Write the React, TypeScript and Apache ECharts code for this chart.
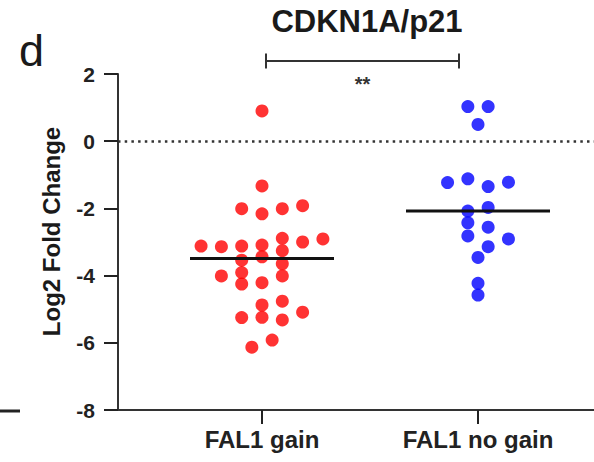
import React, { useEffect, useRef } from "react";
import * as echarts from "echarts";

// ---- data ----
const categories = ["FAL1 gain", "FAL1 no gain"];
const chartTitle = "CDKN1A/p21";
const panelLetter = "d";
const yAxisTitle = "Log2 Fold Change";
const significance = "**";
const yMin = -8;
const yMax = 2;
const yStep = 2;

// FAL1 gain (red) log2 fold changes and their beeswarm column (slot) offsets
const gainValues = [
  0.9, -1.33, -2.01, -2.16, -2.01, -1.92, -3.12, -3.14, -3.12, -3.09, -2.89, -3.0, -2.91,
  -3.26, -3.54, -3.44, -3.65, -4.01, -3.91, -4.01, -4.25, -4.21, -4.875, -4.76, -5.09,
  -5.25, -5.24, -5.32, -5.92, -6.13,
];
const gainSlots = [
  0, 0, -1, 0, 1, 2, -3, -2, -1, 0, 1, 2, 3, 1, -1, 0, 1, -2, -1, 1, -1, 0, 0, 1, 2, -1, 0, 1,
  0.5, -0.5,
];

// FAL1 no gain (blue)
const noGainValues = [
  1.03, 1.03, 0.5, -1.23, -1.12, -1.35, -1.22, -2.08, -1.97, -2.43, -2.56, -2.82, -2.91,
  -3.14, -3.46, -4.23, -4.58,
];
const noGainSlots = [
  -0.5, 0.5, 0, -1.5, -0.5, 0.5, 1.5, -0.5, 0.5, -0.5, 0.5, -0.5, 1.5, 0.5, 0, 0, 0,
];

// significance bracket span (category units) and height (data units)
const bracketFrom = 0.0185;
const bracketTo = 0.912;
const bracketY = 2.387;

const SLOT = 0.094; // fraction of category spacing per swarm slot
const HALF_MEDIAN = 1 / 3;

function median(a: number[]) {
  const s = [...a].sort((x, y) => x - y);
  const m = Math.floor(s.length / 2);
  return s.length % 2 ? s[m] : (s[m - 1] + s[m]) / 2;
}

export default function App() {
  const ref = useRef<HTMLDivElement>(null);
  useEffect(() => {
    const chart = echarts.init(ref.current!, null, { renderer: "svg" });
    const font = "'Liberation Sans', Arial, sans-serif";
    const ink = "#222";
    const pts = (vals: number[], slots: number[], c: number) =>
      vals.map((v, i) => [c + slots[i] * SLOT, v]);
    const mGain = median(gainValues);
    const mNo = median(noGainValues);
    const medLine = (c: number, m: number) => ({
      type: "line",
      data: [
        [c - HALF_MEDIAN, m],
        [c + HALF_MEDIAN, m],
      ],
      symbol: "none",
      lineStyle: { color: "#111", width: 3 },
      silent: true,
      z: 3,
    });

    chart.setOption({
      animation: false,
      grid: { left: 118, right: 0, top: 74, bottom: 52 },
      xAxis: {
        type: "value",
        min: -2 / 3,
        max: 1.537,
        splitLine: { show: false },
        axisLine: { onZero: false, lineStyle: { color: "#333", width: 2 } },
        axisTick: { customValues: [0, 1], length: 14, lineStyle: { color: ink, width: 2 } },
        axisLabel: {
          customValues: [0, 1],
          formatter: (v: number) => categories[Math.round(v)],
          fontFamily: font,
          fontWeight: "bold",
          fontSize: 24,
          color: ink,
          margin: 17,
        },
      },
      yAxis: {
        type: "value",
        min: yMin,
        max: yMax,
        interval: yStep,
        splitLine: { show: false },
        axisLine: { show: true, onZero: false, lineStyle: { color: "#333", width: 2 } },
        axisTick: { show: true, length: 14, lineStyle: { color: ink, width: 2 } },
        axisLabel: {
          fontFamily: font,
          fontWeight: "bold",
          fontSize: 21,
          color: ink,
          margin: 23,
        },
      },
      series: [
        {
          type: "scatter",
          data: pts(gainValues, gainSlots, 0),
          symbolSize: 13,
          itemStyle: { color: "#ff0000" },
          z: 2,
          markLine: {
            silent: true,
            symbol: "none",
            label: { show: false },
            lineStyle: { color: "#333", width: 2.5, type: [2.5, 4.2] },
            data: [{ yAxis: 0 }],
          },
        },
        {
          type: "scatter",
          data: pts(noGainValues, noGainSlots, 1),
          symbolSize: 13,
          itemStyle: { color: "#0000ff" },
          z: 2,
        },
        medLine(0, mGain),
        medLine(1, mNo),
      ],
    });

    const p1 = chart.convertToPixel({ gridIndex: 0 }, [bracketFrom, bracketY]) as number[];
    const p2 = chart.convertToPixel({ gridIndex: 0 }, [bracketTo, bracketY]) as number[];
    const cap = 7.5;
    chart.setOption({
      graphic: [
        {
          type: "text",
          x: 367,
          y: 6,
          style: {
            text: chartTitle,
            font: `bold 31px ${font}`,
            fill: "#1a1a1a",
            textAlign: "center",
            textVerticalAlign: "top",
          },
        },
        {
          type: "text",
          x: 19,
          y: 28,
          style: {
            text: panelLetter,
            font: `45px ${font}`,
            fill: "#1a1a1a",
            textAlign: "left",
            textVerticalAlign: "top",
          },
        },
        {
          type: "text",
          x: 51,
          y: 231.5,
          rotation: Math.PI / 2,
          style: {
            text: yAxisTitle,
            font: `bold 24px ${font}`,
            fill: "#1a1a1a",
            textAlign: "center",
            textVerticalAlign: "middle",
          },
        },
        {
          type: "line",
          shape: { x1: p1[0], y1: p1[1], x2: p2[0], y2: p2[1] },
          style: { stroke: "#333", lineWidth: 2 },
        },
        {
          type: "line",
          shape: { x1: p1[0], y1: p1[1] - cap, x2: p1[0], y2: p1[1] + cap },
          style: { stroke: "#333", lineWidth: 2 },
        },
        {
          type: "line",
          shape: { x1: p2[0], y1: p2[1] - cap, x2: p2[0], y2: p2[1] + cap },
          style: { stroke: "#333", lineWidth: 2 },
        },
        {
          type: "text",
          x: (p1[0] + p2[0]) / 2,
          y: p1[1] + 23,
          style: {
            text: significance,
            font: `bold 20px ${font}`,
            fill: "#333",
            textAlign: "center",
            textVerticalAlign: "middle",
          },
        },
        {
          type: "line",
          shape: { x1: 0, y1: 411, x2: 20, y2: 411 },
          style: { stroke: "#222", lineWidth: 3 },
        },
      ],
    });

    return () => chart.dispose();
  }, []);

  return (
    <div
      ref={ref}
      style={{ position: "fixed", left: 0, top: 0, width: 594, height: 462, background: "#fff" }}
    />
  );
}
